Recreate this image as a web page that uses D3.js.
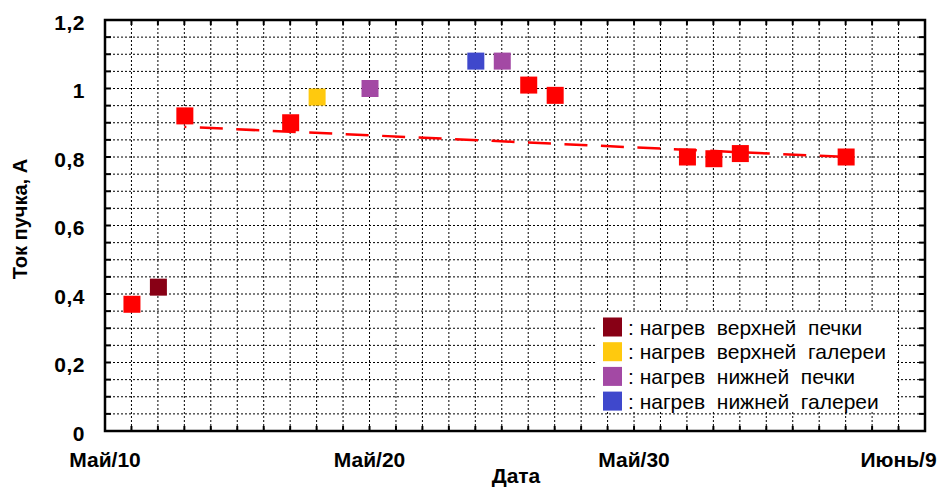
<!DOCTYPE html>
<html><head><meta charset="utf-8">
<script src="https://cdn.jsdelivr.net/npm/d3@7"></script>
<style>
html,body{margin:0;padding:0;background:#fff;}
svg{display:block;font-family:"Liberation Sans",Arial,sans-serif;}
</style></head>
<body><svg id="chart" width="942" height="488"></svg>
<script>
// ---- data ----
const dates = ["2010-05-11","2010-05-12","2010-05-13","2010-05-17","2010-05-18","2010-05-20","2010-05-24","2010-05-25","2010-05-26","2010-05-27","2010-06-01","2010-06-02","2010-06-03","2010-06-07"];
const currents = [0.37, 0.42, 0.92, 0.90, 0.975, 1.0, 1.08, 1.08, 1.01, 0.98, 0.80, 0.795, 0.81, 0.80];
const pointKinds = ["base","upperOven","base","base","upperGallery","lowerOven","lowerGallery","lowerOven","base","base","base","base","base","base"];
const trendDates = ["2010-05-13","2010-06-07"];
const trendValues = [0.888, 0.80];
const legendKinds = ["upperOven","upperGallery","lowerOven","lowerGallery"];
const legendLabels = [": нагрев  верхней  печки", ": нагрев  верхней  галереи", ": нагрев  нижней  печки", ": нагрев  нижней  галереи"];
const kindColors = {base:"#ff0000", upperOven:"#880015", upperGallery:"#ffc90e", lowerOven:"#a349a4", lowerGallery:"#3f48cc"};
const xTickDates = ["2010-05-10","2010-05-20","2010-05-30","2010-06-09"];
const xTickLabels = ["Май/10","Май/20","Май/30","Июнь/9"];
const yTickValues = [0, 0.2, 0.4, 0.6, 0.8, 1.0, 1.2];
const yTickLabels = ["0","0,2","0,4","0,6","0,8","1","1,2"];
const xTitle = "Дата";
const yTitle = "Ток пучка, А";

// ---- layout ----
const P = d3.utcParse("%Y-%m-%d");
const svg = d3.select("#chart");
const L = 105, R = 925, T = 20, B = 431;
const x = d3.scaleUtc().domain([P("2010-05-10"), P("2010-06-10")]).range([L, R]);
const y = d3.scaleLinear().domain([0, 1.2]).range([B, T]);

// grid
const dayTicks = d3.utcDay.range(P("2010-05-11"), P("2010-06-10"));
const minorY = d3.range(1, 24).map(i => i * 0.05);
const g = svg.append("g");
g.selectAll("line.vx").data(dayTicks).join("line")
  .attr("x1", d => x(d)).attr("x2", d => x(d)).attr("y1", T).attr("y2", B)
  .attr("stroke", "#000").attr("stroke-width", 1).attr("stroke-dasharray", "2,2");
g.selectAll("line.hy").data(minorY).join("line")
  .attr("y1", d => y(d)).attr("y2", d => y(d)).attr("x1", L).attr("x2", R)
  .attr("stroke", "#000").attr("stroke-width", 1).attr("stroke-dasharray", "2,2");

// legend background
const lg = svg.append("g");
lg.append("rect").attr("x", 596).attr("y", 312).attr("width", 301).attr("height", 99).attr("fill", "#fff");

// inner ticks
const tk = svg.append("g").attr("stroke", "#000").attr("stroke-width", 2);
tk.selectAll("line.tt").data(dayTicks).join("line").attr("x1", d => x(d)).attr("x2", d => x(d)).attr("y1", T).attr("y2", T + 5);
tk.selectAll("line.tb").data(dayTicks).join("line").attr("x1", d => x(d)).attr("x2", d => x(d)).attr("y1", B).attr("y2", B - 5);
tk.selectAll("line.tl").data(minorY).join("line").attr("y1", d => y(d)).attr("y2", d => y(d)).attr("x1", L).attr("x2", L + 6);
tk.selectAll("line.tr").data(minorY).join("line").attr("y1", d => y(d)).attr("y2", d => y(d)).attr("x1", R).attr("x2", R - 6);

// frame
svg.append("rect").attr("x", L).attr("y", T).attr("width", R - L).attr("height", B - T)
  .attr("fill", "none").attr("stroke", "#000").attr("stroke-width", 2.5);

// trend line
const trend = trendDates.map((d, i) => ({d: P(d), v: trendValues[i]}));
svg.append("path").datum(trend)
  .attr("d", d3.line().x(d => x(d.d)).y(d => y(d.v)))
  .attr("fill", "none").attr("stroke", "#ff0000").attr("stroke-width", 2.5)
  .attr("stroke-dasharray", "23,13.5").attr("stroke-dashoffset", 21);

// points
const pts = dates.map((d, i) => ({d: P(d), v: currents[i], k: pointKinds[i]}));
const S = 17;
svg.append("g").selectAll("rect").data(pts).join("rect")
  .attr("x", d => x(d.d) - S / 2 + 0.5).attr("y", d => y(d.v) - S / 2)
  .attr("width", S).attr("height", S).attr("fill", d => kindColors[d.k]);

// y tick labels
svg.append("g").selectAll("text").data(yTickValues).join("text")
  .attr("x", 85).attr("y", d => y(d) + 2).attr("dy", "0.36em")
  .attr("text-anchor", "end").attr("font-size", 21).attr("font-weight", "bold")
  .attr("letter-spacing", 0.5)
  .text((d, i) => yTickLabels[i]);

// x tick labels
svg.append("g").selectAll("text").data(xTickDates).join("text")
  .attr("x", d => x(P(d))).attr("y", 467)
  .attr("text-anchor", "middle").attr("font-size", 21).attr("font-weight", "bold")
  .text((d, i) => xTickLabels[i]);

// titles
svg.append("text").attr("x", 516).attr("y", 483).attr("text-anchor", "middle")
  .attr("font-size", 21).attr("font-weight", "bold").text(xTitle);
svg.append("text").attr("transform", "translate(27,219) rotate(-90)").attr("text-anchor", "middle")
  .attr("font-size", 20).attr("font-weight", "bold").text(yTitle);

// legend
legendKinds.forEach((k, i) => {
  const cy = 327 + i * 24.7;
  lg.append("rect").attr("x", 603).attr("y", cy - 9.5).attr("width", 19).attr("height", 19).attr("fill", kindColors[k]);
  lg.append("text").attr("x", 628).attr("y", cy).attr("dy", "0.36em")
    .attr("font-size", 21).style("white-space", "pre").attr("xml:space", "preserve").text(legendLabels[i]);
});
</script>
</body></html>
